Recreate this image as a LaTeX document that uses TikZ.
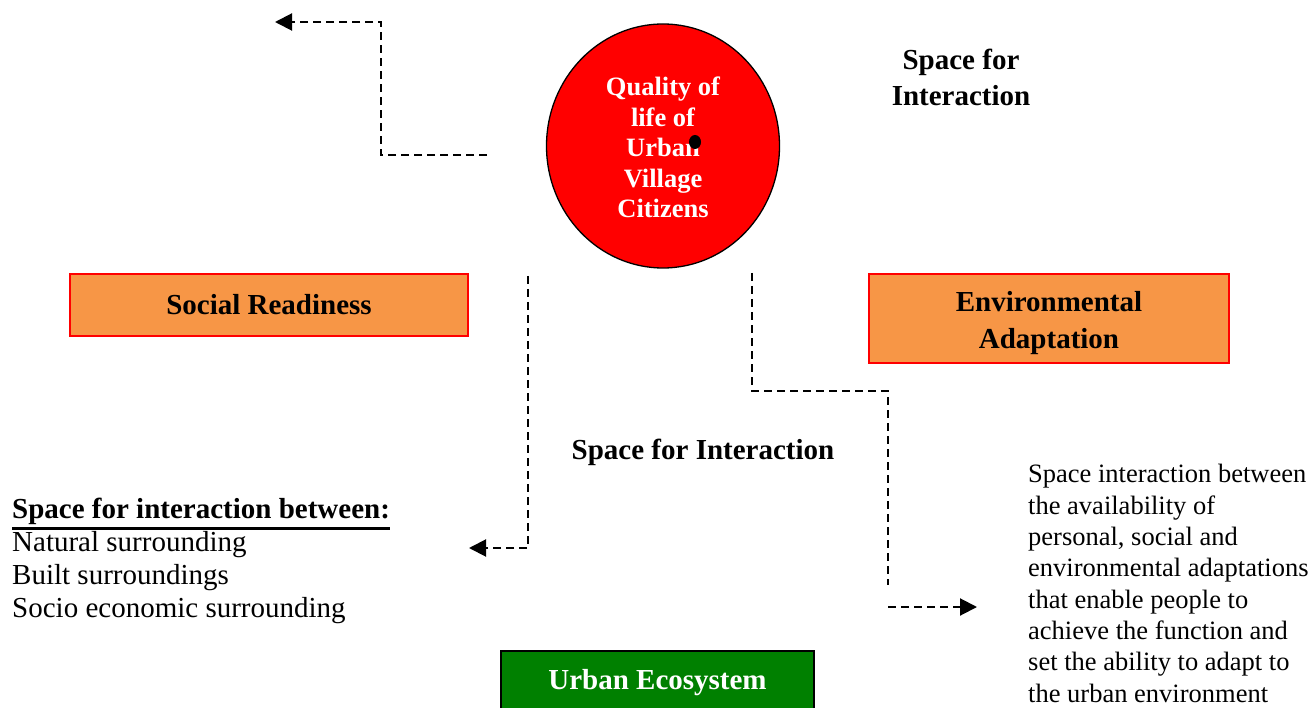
\documentclass[tikz,border=0pt]{standalone}
\usepackage{fontspec}
\setmainfont{Liberation Serif}
\usetikzlibrary{arrows.meta,shapes.geometric}
\definecolor{boxorange}{HTML}{F79646}
\definecolor{ecogreen}{HTML}{008000}
\newcommand\thickul[1]{\leavevmode\vtop{\hbox{#1}\kern3pt\hrule height 2.6pt}}
\begin{document}
\begin{tikzpicture}[x=1pt,y=-1pt,
  conn/.style={draw=black, line width=2pt, dash pattern=on 8pt off 5pt},
  tip/.style={-{Triangle[length=17pt,width=17pt]}},
  boldlbl/.style={inner sep=0pt, align=center, font=\fontsize{29}{36.5}\selectfont\bfseries},
  plainlbl/.style={inner sep=0pt, align=left},
  orangebox/.style={draw=red, line width=1.2pt, fill=boxorange, inner sep=0pt, align=center, font=\fontsize{29}{37}\selectfont\bfseries},
  greenbox/.style={draw=black, line width=1.2pt, fill=ecogreen, inner sep=0pt, text=white, font=\fontsize{29}{36}\selectfont\bfseries}
]
\useasboundingbox (0,0) rectangle (1313,708);

% central circle
\node[ellipse, draw=black, line width=1.3pt, fill=red, minimum width=233pt, minimum height=244pt, inner sep=0pt] (core) at (663,146) {};
\node[inner sep=0pt, align=center, text=white, font=\fontsize{26.5}{30.5}\selectfont\bfseries, anchor=base] (coretext) at (663,218) {Quality of\\life of\\Urban\\Village\\Citizens};
\node[ellipse, fill=black, minimum width=12pt, minimum height=14pt, inner sep=0pt] (dot) at (695,142) {};

% boxes
\node[orangebox, minimum width=398pt, minimum height=62pt] (social) at (269,305) {Social Readiness};
\node[orangebox, minimum width=360pt, minimum height=89pt] (env) at (1049,318.5) {\rule{0pt}{30pt}Environmental\\Adaptation};
\node[greenbox, minimum width=313pt, minimum height=64pt] (eco) at (657.5,683) {Urban Ecosystem};

% labels
\node[boldlbl, anchor=base] (topspace) at (961,106) {Space for\\Interaction};
\node[boldlbl, anchor=base] (midspace) at (703,459) {Space for Interaction};
\node[plainlbl, anchor=base west, font=\fontsize{29}{33}\selectfont] (list) at (12,617) {\thickul{\bfseries Space for interaction between:}\\Natural surrounding\\Built surroundings\\Socio economic surrounding};
\node[plainlbl, anchor=base west, font=\fontsize{26.5}{31.3}\selectfont] (desc) at (1028,702) {Space interaction between\\the availability of\\personal, social and\\environmental adaptations\\that enable people to\\achieve the function and\\set the ability to adapt to\\the urban environment};

% connectors
\coordinate (c1s) at (487,155);
\coordinate (c1e) at (275,22);
\draw[conn, tip] (c1s) -| (381,22) -- (c1e);

\coordinate (c2s) at (528,276);
\coordinate (c2e) at (469,548);
\draw[conn, tip] (c2s) |- (c2e);

\coordinate (c3s) at (752,273);
\coordinate (c3m) at (888,585);
\coordinate (c3n) at (888,607);
\coordinate (c3e) at (977,607);
\draw[conn] (c3s) |- (888,391) -- (c3m);
\draw[conn, tip] (c3n) -- (c3e);
\end{tikzpicture}
\end{document}
